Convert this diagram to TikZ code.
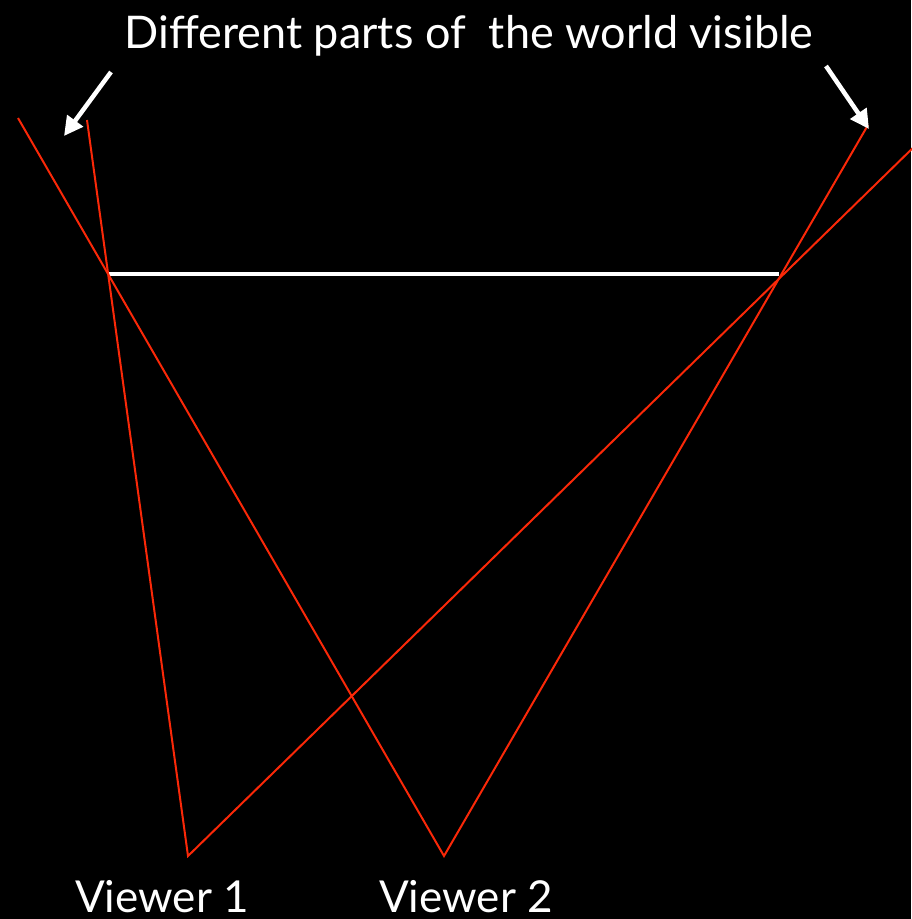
\documentclass[tikz,border=0pt]{standalone}
\usepackage{fontspec}
\setmainfont{Lato}
\usetikzlibrary{arrows.meta}
\definecolor{rayred}{RGB}{250,40,8}
\begin{document}
\begin{tikzpicture}[x=1pt,y=-1pt,
  ray/.style={draw=rayred,line width=2pt},
  wall/.style={draw=white,line width=4pt},
  pointer/.style={draw=white,line width=4.5pt,-{Triangle[length=19pt,width=19pt]}},
  lbl/.style={text=white,inner sep=0pt,anchor=base}]
\fill[black] (0,0) rectangle (911,919);
\useasboundingbox (0,0) rectangle (911,919);
% viewers
\coordinate (v1) at (188,856);
\coordinate (v2) at (444,856);
% ray ends
\coordinate (a1) at (87,120);
\coordinate (a2) at (920,141);
\coordinate (b1) at (18,118);
\coordinate (b2) at (868,125);
% wall ends
\coordinate (wl) at (109,274);
\coordinate (wr) at (779,274);
\draw[wall] (wl) -- (wr);
\draw[ray] (a1) -- (v1) -- (a2);
\draw[ray] (b1) -- (v2) -- (b2);
% arrows
\coordinate (p1s) at (111,72);
\coordinate (p1e) at (64,136);
\coordinate (p2s) at (826,66);
\coordinate (p2e) at (869,129);
\draw[pointer] (p1s) -- (p1e);
\draw[pointer] (p2s) -- (p2e);
% labels
\node[lbl,font=\fontsize{45}{48}\selectfont] (title) at (469,48) {Different parts of\ \ the world visible};
\node[lbl,text depth=0pt,font=\fontsize{44}{48}\selectfont] (l1) at (162,912) {Viewer 1};
\node[lbl,text depth=0pt,font=\fontsize{44}{48}\selectfont] (l2) at (466,912) {Viewer 2};
\end{tikzpicture}
\end{document}
